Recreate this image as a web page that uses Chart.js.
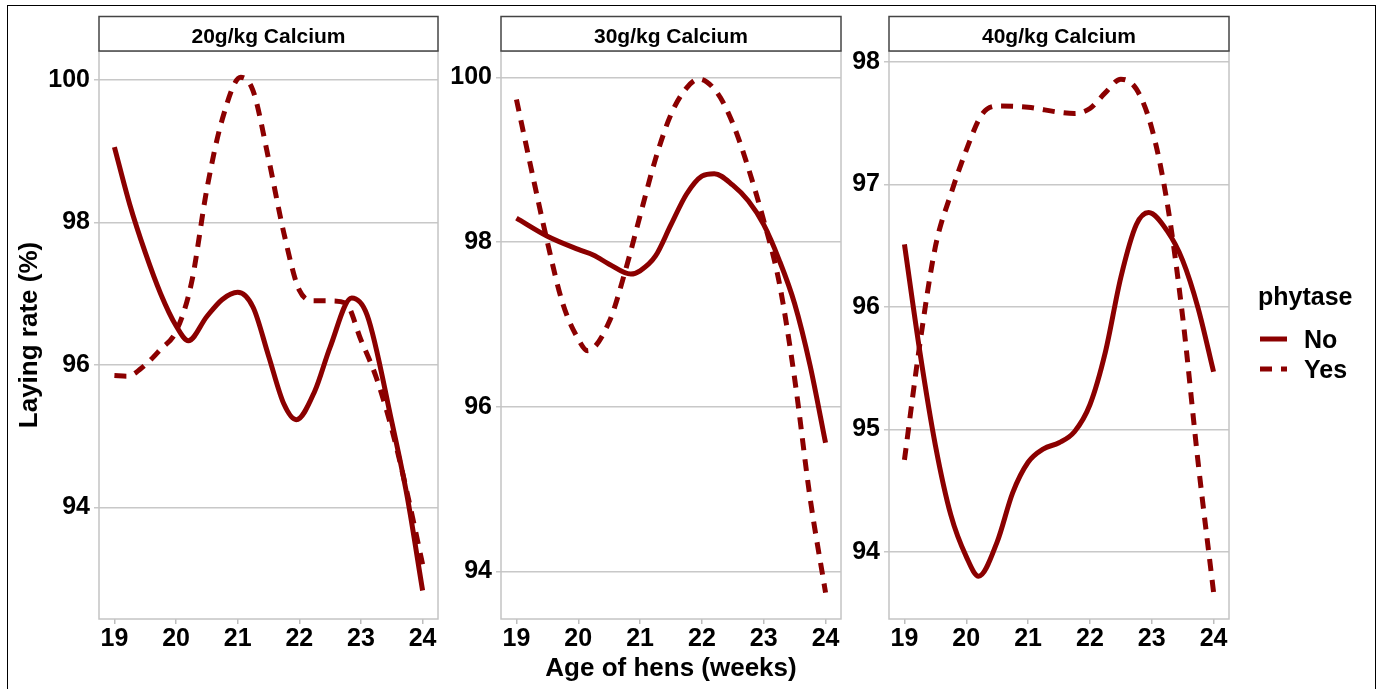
<!DOCTYPE html>
<html>
<head>
<meta charset="utf-8">
<script src="https://cdn.jsdelivr.net/npm/chart.js@4.4.1/dist/chart.umd.min.js"></script>
<style>
  html, body { margin: 0; padding: 0; background: #fff; }
  body { width: 1384px; height: 689px; position: relative; overflow: hidden; }
  #frame { position: absolute; left: 7px; top: 5px; width: 1369px; height: 720px; border: 1px solid #000; box-sizing: border-box; }
  canvas { position: absolute; top: 0; }
</style>
</head>
<body>
<div id="frame"></div>
<canvas id="chart20" width="445" height="689" style="left:0px"></canvas>
<canvas id="chart30" width="396" height="689" style="left:450px"></canvas>
<canvas id="chart40" width="539" height="689" style="left:845px"></canvas>
<script>
const weekTicks = [19, 20, 21, 22, 23, 24];
const panelTitles = ['20g/kg Calcium', '30g/kg Calcium', '40g/kg Calcium'];
const seriesLabels = ['No', 'Yes'];
const legendTitle = 'phytase';

// 20 g/kg calcium (smoothed curves)
const ageNo20  = [19, 19.25, 19.5, 19.75, 20, 20.2, 20.5, 20.75, 21, 21.25, 21.5, 21.75, 21.95, 22.25, 22.5, 22.85, 23.1, 23.5, 23.75, 24];
const rateNo20 = [99.06, 98.25, 97.58, 97.0, 96.55, 96.34, 96.68, 96.92, 97.02, 96.81, 96.13, 95.45, 95.23, 95.63, 96.25, 96.94, 96.7, 95.2, 94.15, 92.83];
const ageYes20  = [19, 19.2, 19.5, 19.75, 20, 20.25, 20.5, 20.75, 21.05, 21.25, 21.5, 21.75, 22, 22.25, 22.5, 22.75, 23, 23.25, 23.5, 23.75, 24];
const rateYes20 = [95.85, 95.84, 96.0, 96.22, 96.47, 97.15, 98.47, 99.45, 100.04, 99.85, 98.9, 97.85, 97.05, 96.9, 96.9, 96.87, 96.35, 95.82, 95.1, 94.2, 93.2];

// 30 g/kg calcium
const ageNo30  = [19, 19.5, 20, 20.25, 20.5, 20.85, 21, 21.25, 21.5, 21.75, 22, 22.2, 22.5, 22.75, 23, 23.25, 23.5, 23.75, 24];
const rateNo30 = [98.29, 98.07, 97.91, 97.84, 97.73, 97.61, 97.65, 97.83, 98.21, 98.58, 98.8, 98.83, 98.69, 98.5, 98.21, 97.78, 97.25, 96.5, 95.56];
const ageYes30  = [19, 19.25, 19.5, 19.75, 20, 20.15, 20.5, 20.75, 21, 21.25, 21.5, 21.75, 21.95, 22.25, 22.5, 22.75, 23, 23.25, 23.5, 23.75, 24];
const rateYes30 = [99.73, 98.85, 98.0, 97.25, 96.82, 96.68, 97.03, 97.62, 98.32, 99.01, 99.55, 99.87, 99.98, 99.81, 99.44, 98.9, 98.26, 97.51, 96.34, 94.89, 93.74];

// 40 g/kg calcium
const ageNo40  = [19, 19.25, 19.5, 19.75, 20, 20.2, 20.5, 20.75, 21, 21.25, 21.5, 21.75, 22, 22.25, 22.5, 22.75, 22.95, 23.25, 23.5, 23.75, 24];
const rateNo40 = [96.51, 95.63, 94.87, 94.3, 93.96, 93.8, 94.08, 94.48, 94.73, 94.84, 94.89, 94.98, 95.2, 95.63, 96.24, 96.67, 96.77, 96.62, 96.38, 95.99, 95.47];
const ageYes40  = [19, 19.25, 19.5, 19.75, 20, 20.25, 20.5, 21, 21.5, 21.75, 22, 22.25, 22.5, 22.75, 23, 23.25, 23.5, 23.75, 24];
const rateYes40 = [94.75, 95.7, 96.49, 96.92, 97.28, 97.57, 97.64, 97.63, 97.59, 97.58, 97.62, 97.75, 97.86, 97.78, 97.46, 96.85, 95.92, 94.73, 93.67];

const FONT = "'Liberation Sans', Arial, sans-serif";
const RED = '#8b0000';
const PLOT_TOP = 51;
const STRIP_TOP = 16.5;

Chart.defaults.font.family = FONT;
Chart.defaults.font.weight = 'bold';
Chart.defaults.color = '#000';

function toPoints(xs, ys) {
  return xs.map((x, i) => ({ x: x, y: ys[i] }));
}

// facet strip with its label + light panel border
const stripPlugin = {
  id: 'strip',
  afterDraw(chart, args, opts) {
    const a = chart.chartArea;
    const c = chart.ctx;
    c.save();
    c.strokeStyle = '#c4c4c4';
    c.lineWidth = 1.5;
    c.strokeRect(a.left, a.top, a.right - a.left, a.bottom - a.top);
    c.fillStyle = '#fff';
    c.fillRect(a.left, STRIP_TOP, a.right - a.left, a.top - STRIP_TOP);
    c.strokeStyle = '#444';
    c.strokeRect(a.left, STRIP_TOP, a.right - a.left, a.top - STRIP_TOP);
    c.fillStyle = '#000';
    c.font = 'bold 21px ' + FONT;
    c.textAlign = 'center';
    c.textBaseline = 'alphabetic';
    c.fillText(opts.text, (a.left + a.right) / 2, 42.5);
    c.restore();
  }
};

const phytaseLegend = {
  id: 'phytaseLegend',
  afterDraw(chart, args, opts) {
    if (!opts.display) return;
    const c = chart.ctx;
    const x0 = chart.chartArea.right + 29;
    c.save();
    c.fillStyle = '#000';
    c.font = 'bold 25px ' + FONT;
    c.textBaseline = 'alphabetic';
    c.fillText(opts.title, x0, 305);
    chart.data.datasets.forEach((ds, i) => {
      const y = 339 + i * 30;
      c.strokeStyle = ds.borderColor;
      c.lineWidth = ds.borderWidth;
      c.setLineDash(ds.borderDash || []);
      c.beginPath();
      c.moveTo(x0 + 2, y);
      c.lineTo(x0 + 29, y);
      c.stroke();
      c.setLineDash([]);
      c.fillText(ds.label, x0 + 46, y + 9);
    });
    c.restore();
  }
};

function drawPanel(id, p) {
  const ctx = document.getElementById(id);
  return new Chart(ctx, {
    type: 'line',
    data: {
      datasets: [
        {
          label: seriesLabels[0], data: toPoints(p.noAge, p.noRate),
          borderColor: RED, borderWidth: 5, borderDash: [], pointRadius: 0,
          cubicInterpolationMode: 'monotone', borderCapStyle: 'butt', fill: false
        },
        {
          label: seriesLabels[1], data: toPoints(p.yesAge, p.yesRate),
          borderColor: RED, borderWidth: 5, borderDash: [12, 9], pointRadius: 0,
          cubicInterpolationMode: 'monotone', borderCapStyle: 'butt', fill: false
        }
      ]
    },
    options: {
      responsive: false,
      animation: false,
      layout: { padding: { top: PLOT_TOP, right: p.padRight, bottom: 0, left: 0 } },
      plugins: {
        legend: { display: false },
        tooltip: { enabled: false },
        strip: { text: p.title },
        phytaseLegend: { display: !!p.legend, title: legendTitle }
      },
      scales: {
        x: {
          type: 'linear', min: 18.75, max: 24.25,
          afterFit: s => { s.height = 70; },
          afterBuildTicks: s => { s.ticks = weekTicks.map(v => ({ value: v })); },
          border: { display: false },
          grid: { drawOnChartArea: false, drawTicks: true, tickLength: 5, color: '#bdbdbd', lineWidth: 1.5 },
          ticks: { font: { size: 25, weight: 'bold' }, padding: 0, maxRotation: 0, autoSkip: false },
          title: {
            display: !!p.xTitle, text: 'Age of hens (weeks)',
            font: { size: 26, weight: 'bold' }, padding: { top: 0, bottom: 5 }
          }
        },
        y: {
          min: p.yMin, max: p.yMax,
          afterFit: s => { s.width = p.axisWidth; },
          border: { display: false },
          grid: { color: '#c8c8c8', lineWidth: 1.5, tickLength: 5, drawTicks: true },
          ticks: { stepSize: p.yStep, includeBounds: false, font: { size: 25, weight: 'bold' }, padding: 4 },
          title: {
            display: !!p.yTitle, text: 'Laying rate (%)',
            font: { size: 26, weight: 'bold' }, padding: { top: 14, bottom: 0 }
          }
        }
      }
    },
    plugins: [stripPlugin, phytaseLegend]
  });
}

window.onload = function () {
  drawPanel('chart20', {
    title: panelTitles[0], noAge: ageNo20, noRate: rateNo20, yesAge: ageYes20, yesRate: rateYes20,
    yMin: 92.43, yMax: 100.41, yStep: 2, axisWidth: 99, padRight: 7, yTitle: true
  });
  drawPanel('chart30', {
    title: panelTitles[1], noAge: ageNo30, noRate: rateNo30, yesAge: ageYes30, yesRate: rateYes30,
    yMin: 93.42, yMax: 100.32, yStep: 2, axisWidth: 51, padRight: 5, xTitle: true
  });
  drawPanel('chart40', {
    title: panelTitles[2], noAge: ageNo40, noRate: rateNo40, yesAge: ageYes40, yesRate: rateYes40,
    yMin: 93.45, yMax: 98.09, yStep: 1, axisWidth: 44, padRight: 155, legend: true
  });
};
</script>
</body>
</html>
